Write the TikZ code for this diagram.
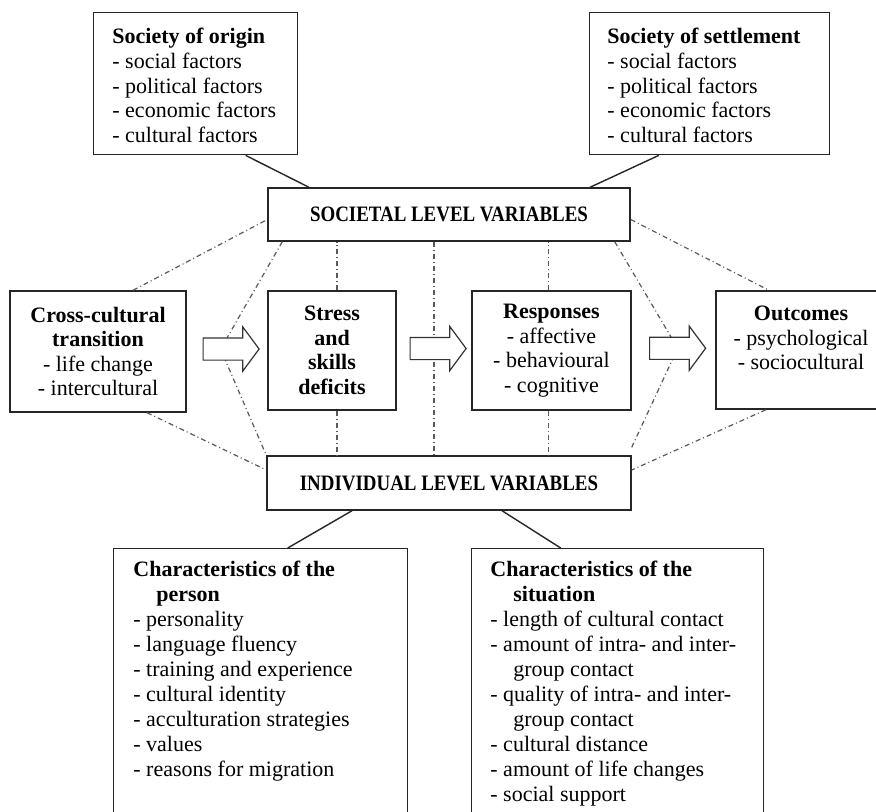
\documentclass[tikz,border=0pt]{standalone}
\usepackage{fontspec}
\setmainfont{Liberation Serif}
\newfontfamily\capsfont[FakeStretch=0.86]{Liberation Serif}
\usetikzlibrary{shapes.arrows, calc}

\tikzset{
  box/.style={draw=black!85, line width=0.7pt, fill=white, inner sep=0pt, align=center},
  listtext/.style={anchor=north west, inner sep=0pt, align=left},
  link/.style={draw=black!85, line width=0.7pt},
  dashdot/.style={draw=black!65, line width=0.6pt, dash pattern=on 2.5pt off 1.5pt on 0.5pt off 1.5pt},
  fatarrow/.style={single arrow, draw=black!80, fill=white, line width=0.6pt,
    minimum height=28pt, minimum width=21.5pt, single arrow head extend=5.5pt,
    single arrow tip angle=107, inner xsep=0pt, inner ysep=5.25pt}
}

\begin{document}
\begin{tikzpicture}[x=0.5pt, y=-0.5pt, font=\fontsize{11}{12.3}\selectfont]
  \clip (0,0) rectangle (876,811);
  % societal level
  \node[box, anchor=north west, minimum width=102pt, minimum height=71pt] (origin) at (93,12) {};
  \node[listtext] (origintxt) at (112,28) {\textbf{Society of origin}\\- social factors\\- political factors\\- economic factors\\- cultural factors};
  \node[box, anchor=north west, minimum width=120pt, minimum height=71pt] (settlement) at (589,12) {};
  \node[listtext] (settletxt) at (607,28) {\textbf{Society of settlement}\\- social factors\\- political factors\\- economic factors\\- cultural factors};
  \node[box, minimum width=181pt, minimum height=26.5pt, font=\capsfont\fontsize{11}{12}\selectfont\bfseries] (societal) at (449,214.5) {SOCIETAL LEVEL VARIABLES};
  % process row
  \node[box, minimum width=88pt, minimum height=60.5pt] (cross) at (98,351.5) {\textbf{Cross-cultural}\\\textbf{transition}\\- life change\\- intercultural};
  \node[box, minimum width=64pt, minimum height=59.5pt, font=\fontsize{11}{12.3}\selectfont\bfseries] (stress) at (332,350.5) {Stress\\and\\skills\\deficits};
  \node[box, minimum width=79.5pt, minimum height=59.5pt] (responses) at (551.5,350.5) {\textbf{Responses}\\- affective\\- behavioural\\- cognitive};
  \node[box, minimum width=85pt, minimum height=59pt] (outcomes) at (801,350) {\textbf{Outcomes}\\- psychological\\- sociocultural\\\mbox{}};
  % individual level
  \node[box, minimum width=182pt, minimum height=27pt, font=\capsfont\fontsize{11}{12}\selectfont\bfseries] (individual) at (449,483) {INDIVIDUAL LEVEL VARIABLES};
  \node[box, anchor=north west, minimum width=147pt, minimum height=150pt] (person) at (113,548) {};
  \node[listtext, font=\fontsize{11}{12.45}\selectfont] (persontxt) at (133,561) {\textbf{Characteristics of the}\\\hspace*{11.5pt}\textbf{person}\\- personality\\- language fluency\\- training and experience\\- cultural identity\\- acculturation strategies\\- values\\- reasons for migration};
  \node[box, anchor=north west, minimum width=146pt, minimum height=150pt] (situation) at (471,548) {};
  \node[listtext, font=\fontsize{11}{12.45}\selectfont] (situtxt) at (490,561) {\textbf{Characteristics of the}\\\hspace*{11.5pt}\textbf{situation}\\- length of cultural contact\\- amount of intra- and inter-\\\hspace*{11.5pt}group contact\\- quality of intra- and inter-\\\hspace*{11.5pt}group contact\\- cultural distance\\- amount of life changes\\- social support};
  % solid links
  \draw[link] ([xshift=25pt]origin.south) -- ([xshift=-70pt]societal.north);
  \draw[link] ([xshift=-25.5pt]settlement.south) -- ([xshift=70.5pt]societal.north);
  \draw[link] ([xshift=-48.5pt]individual.south) -- ([xshift=13.5pt]person.north);
  \draw[link] ([xshift=26.5pt]individual.south) -- ([xshift=-28.5pt]situation.north);
  % arrow positions
  \coordinate (m1) at ($(cross.east)!0.5!(stress.west)$);
  \coordinate (m2) at ($(stress.east)!0.5!(responses.west)$);
  \coordinate (m3) at ($(responses.east)!0.5!(outcomes.west)$);
  \coordinate (v1) at ($(cross.east)!0.42!(stress.west)$);
  \coordinate (v3) at ($(responses.east)!0.55!(outcomes.west)$);
  % dash-dot links
  \draw[dashdot] ([xshift=17.5pt]cross.north) -- ([yshift=-2.5pt]societal.west);
  \draw[dashdot] ([xshift=24.5pt]cross.south) -- ([yshift=6.5pt]individual.west);
  \draw[dashdot] ([xshift=7.5pt]societal.south west) -- ([yshift=1pt]v1) -- (individual.north west);
  \draw[dashdot] ([xshift=-8pt]societal.south east) -- ([yshift=1pt]v3) -- ([yshift=4pt]individual.north east);
  \draw[dashdot] ([yshift=-2.5pt]societal.east) -- ([xshift=-16pt]outcomes.north);
  \draw[dashdot] ([xshift=-17.5pt]outcomes.south) -- ([yshift=6.5pt]individual.east);
  \draw[dashdot] ([xshift=2.5pt]stress.north) -- ([xshift=2.5pt]stress.north |- societal.south);
  \draw[dashdot] ([xshift=2.5pt]stress.south) -- ([xshift=2.5pt]stress.south |- individual.north);
  \draw[dashdot] (m2 |- societal.south) -- (m2 |- individual.north);
  \draw[dashdot] ([xshift=-1.5pt]responses.north) -- ([xshift=-1.5pt]responses.north |- societal.south);
  \draw[dashdot] ([xshift=-1.5pt]responses.south) -- ([xshift=-1.5pt]responses.south |- individual.north);
  % hollow arrows
  \node[fatarrow] (a1) at ([yshift=1pt]m1) {};
  \node[fatarrow] (a2) at ([yshift=1pt]m2) {};
  \node[fatarrow] (a3) at ([yshift=1pt]m3) {};
\end{tikzpicture}
\end{document}
